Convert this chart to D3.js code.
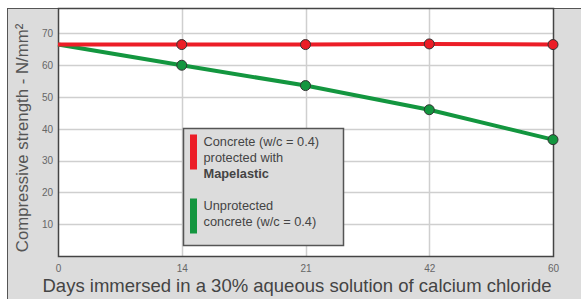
<!DOCTYPE html>
<meta charset="utf-8">
<style>
    body { margin: 0; background: #fff; }
    svg { display: block; }
    .tick text { font-family: "Liberation Sans", Arial, sans-serif; fill: #666; }
</style>
<div class="chart"></div>
<script src="https://cdn.jsdelivr.net/npm/d3@7"></script>
<script>
    // data
    var days = ["0", "14", "21", "42", "60"];
    var protectedVals = [66.5, 66.5, 66.5, 66.7, 66.5];
    var unprotectedVals = [66.5, 60, 53.6, 46, 36.6];
    var yTicks = [10, 20, 30, 40, 50, 60, 70];

    var W = 581, H = 299;
    var plot = {left: 58, top: 8, right: 553, bottom: 256};

    var svg = d3.select(".chart").append("svg")
        .attr("width", W)
        .attr("height", H);

    // gray panel
    svg.append("rect")
        .attr("x", 7.5).attr("y", 8.5)
        .attr("width", W).attr("height", H)
        .attr("fill", "#dcdcdc")
        .attr("stroke", "#555").attr("stroke-width", 1);

    var x = d3.scalePoint()
        .domain(days)
        .range([plot.left, plot.right]);

    var y = d3.scaleLinear()
        .domain([0, 78])
        .range([plot.bottom, plot.top]);

    svg.append("rect")
        .attr("x", plot.left).attr("y", plot.top)
        .attr("width", plot.right - plot.left)
        .attr("height", plot.bottom - plot.top)
        .attr("fill", "#fff");

    // grid
    svg.append("g").selectAll("line.h")
        .data(yTicks)
        .enter().append("line")
        .attr("x1", plot.left).attr("x2", plot.right)
        .attr("y1", function(d) { return Math.round(y(d)) + 0.5; })
        .attr("y2", function(d) { return Math.round(y(d)) + 0.5; })
        .attr("stroke", "#cfcfcf").attr("stroke-width", 1.5);

    svg.append("g").selectAll("line.v")
        .data(days.slice(1, -1))
        .enter().append("line")
        .attr("y1", plot.top).attr("y2", plot.bottom)
        .attr("x1", function(d) { return Math.round(x(d)) + 0.5; })
        .attr("x2", function(d) { return Math.round(x(d)) + 0.5; })
        .attr("stroke", "#cfcfcf").attr("stroke-width", 1.5);

    // plot frame
    svg.append("rect")
        .attr("x", plot.left + 0.5).attr("y", plot.top + 0.5)
        .attr("width", plot.right - plot.left)
        .attr("height", plot.bottom - plot.top)
        .attr("fill", "none")
        .attr("stroke", "#444").attr("stroke-width", 1.5);

    // axes
    var xAxis = d3.axisBottom(x).tickSize(0).tickPadding(9);
    svg.append("g")
        .attr("transform", "translate(0," + plot.bottom + ")")
        .call(xAxis)
        .call(function(g) { g.select(".domain").remove(); })
        .selectAll("text").attr("font-size", 10);

    var yAxis = d3.axisLeft(y).tickValues(yTicks).tickSize(0).tickPadding(5);
    svg.append("g")
        .attr("transform", "translate(" + plot.left + ",0)")
        .call(yAxis)
        .call(function(g) { g.select(".domain").remove(); })
        .selectAll("text").attr("font-size", 10);

    // axis titles
    svg.append("text")
        .attr("x", 297)
        .attr("y", 292)
        .attr("text-anchor", "middle")
        .attr("font-family", "Liberation Sans, Arial, sans-serif")
        .attr("font-size", 18.5)
        .attr("fill", "#444")
        .text("Days immersed in a 30% aqueous solution of calcium chloride");

    svg.append("text")
        .attr("transform", "translate(28,138) rotate(-90)")
        .attr("text-anchor", "middle")
        .attr("font-family", "Liberation Sans, Arial, sans-serif")
        .attr("font-size", 16.8)
        .attr("fill", "#555")
        .text("Compressive strength - N/mm²");

    // lines
    var line = d3.line()
        .x(function(d, i) { return x(days[i]); })
        .y(function(d) { return y(d); });

    var series = [
        {vals: unprotectedVals, color: "#13963f"},
        {vals: protectedVals, color: "#ec1d27"}
    ];

    series.forEach(function(s) {
        svg.append("path")
            .datum(s.vals)
            .attr("d", line)
            .attr("fill", "none")
            .attr("stroke", s.color)
            .attr("stroke-width", 4);

        svg.append("g").selectAll("circle")
            .data(s.vals.slice(1))
            .enter().append("circle")
            .attr("cx", function(d, i) { return x(days[i + 1]); })
            .attr("cy", function(d) { return y(d); })
            .attr("r", 5)
            .attr("fill", s.color)
            .attr("stroke", "#333")
            .attr("stroke-width", 1);
    });

    // legend
    var lg = svg.append("g").attr("transform", "translate(183.5,128.5)");
    lg.append("rect")
        .attr("width", 160).attr("height", 117)
        .attr("fill", "#dcdcdc")
        .attr("stroke", "#555").attr("stroke-width", 1.5);

    var legendItems = [
        {color: "#ec1d27", y: 6, lines: ["Concrete (w/c = 0.4)", "protected with", "Mapelastic"]},
        {color: "#13963f", y: 70, lines: ["Unprotected", "concrete (w/c = 0.4)"]}
    ];
    legendItems.forEach(function(it) {
        lg.append("rect")
            .attr("x", 6.5).attr("y", it.y)
            .attr("width", 7).attr("height", 35)
            .attr("fill", it.color);
        it.lines.forEach(function(t, i) {
            lg.append("text")
                .attr("x", 20)
                .attr("y", it.y + 11 + i * 16)
                .attr("font-family", "Liberation Sans, Arial, sans-serif")
                .attr("font-size", 12.8)
                .attr("font-weight", t === "Mapelastic" ? "bold" : "normal")
                .attr("fill", "#444")
                .text(t);
        });
    });
</script>
